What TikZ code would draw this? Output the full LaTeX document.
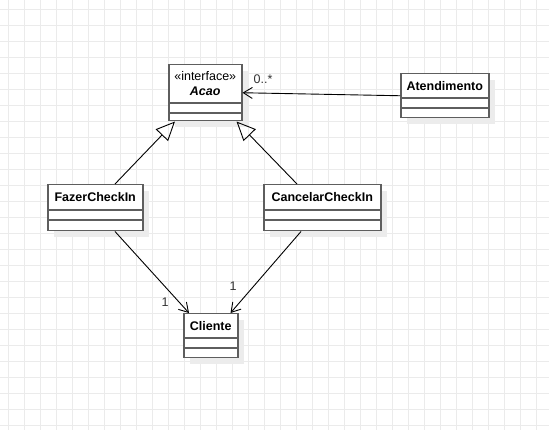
\documentclass[tikz,border=0pt]{standalone}
\usepackage{fontspec}
\setmainfont{Liberation Sans}
\usetikzlibrary{arrows.meta,shadows,calc}
\definecolor{boxline}{HTML}{5E5E5E}
\definecolor{gridgray}{HTML}{EBEBEB}
\definecolor{shadowgray}{HTML}{ECECEC}
\tikzset{
  classbox/.style={
    rectangle, draw=boxline, fill=white, line width=1.5pt,
    inner xsep=0pt, inner ysep=0pt, anchor=north west,
    minimum width=#1, text height=17pt,
    font=\fontsize{12.5}{15}\selectfont\bfseries,
    drop shadow={shadow xshift=6pt, shadow yshift=-6pt,
      fill=shadowgray, opacity=1}
  },
  classbox/.default=80pt,
  classline/.style={draw=boxline, line width=1.5pt},
  gridline/.style={draw=gridgray, line width=0.8pt},
  realize/.style={-{Triangle[open, length=19pt, width=17pt]},
    line width=0.9pt, color=black},
  assoc/.style={-{Straight Barb[length=9pt, width=11pt]},
    line width=0.9pt, color=black},
  multlabel/.style={font=\fontsize{12.5}{15}\selectfont,
    inner sep=0pt, text=black!80}
}
\begin{document}
\begin{tikzpicture}[x=1pt, y=-1pt]
\useasboundingbox[fill=white] (0,0) rectangle (549,430);
% background grid
\foreach \gx in {8,24,...,548}
  \draw[gridline] (\gx,0) -- (\gx,430);
\foreach \gy in {9,25,...,429}
  \draw[gridline] (0,\gy) -- (549,\gy);

% classes
\node[classbox=73pt, text height=31pt, text depth=25pt] (acao) at (168,64)
  {\begin{tabular}[b]{@{}c@{}}\mdseries«interface»\\\itshape Acao\end{tabular}};
\node[classbox=88pt, text depth=27pt] (atend) at (400,73) {Atendimento};
\node[classbox=95pt, text depth=29pt] (fazer) at (47,184) {FazerCheckIn};
\node[classbox=117pt, text depth=29pt] (cancelar) at (263,184) {CancelarCheckIn};
\node[classbox=54pt, text depth=27pt] (cliente) at (183,313) {Cliente};

% compartments
\foreach \n/\hd in {acao/39, atend/25, fazer/26, cancelar/26, cliente/25} {
  \draw[classline] ([yshift=-\hd pt]\n.north west) -- ([yshift=-\hd pt]\n.north east);
  \draw[classline] ([yshift=-\hd pt-10pt]\n.north west) -- ([yshift=-\hd pt-10pt]\n.north east);
}

% relations
\draw[realize] ([xshift=68pt]fazer.north west) -- ([xshift=7pt]acao.south west);
\draw[realize] ([xshift=34pt]cancelar.north west) -- ([xshift=-6pt]acao.south east);
\draw[assoc] (atend.west) -- (acao.east);
\draw[assoc] ([xshift=68pt]fazer.south west) -- ([xshift=6pt]cliente.north west);
\draw[assoc] ([xshift=38pt]cancelar.south west) -- ([xshift=-8pt]cliente.north east);

% multiplicities
\node[multlabel] (multacao) at (263,79) {0..*};
\node[multlabel] (multfazer) at (165,302.5) {1};
\node[multlabel] (multcancel) at (233,286.5) {1};
\end{tikzpicture}
\end{document}
